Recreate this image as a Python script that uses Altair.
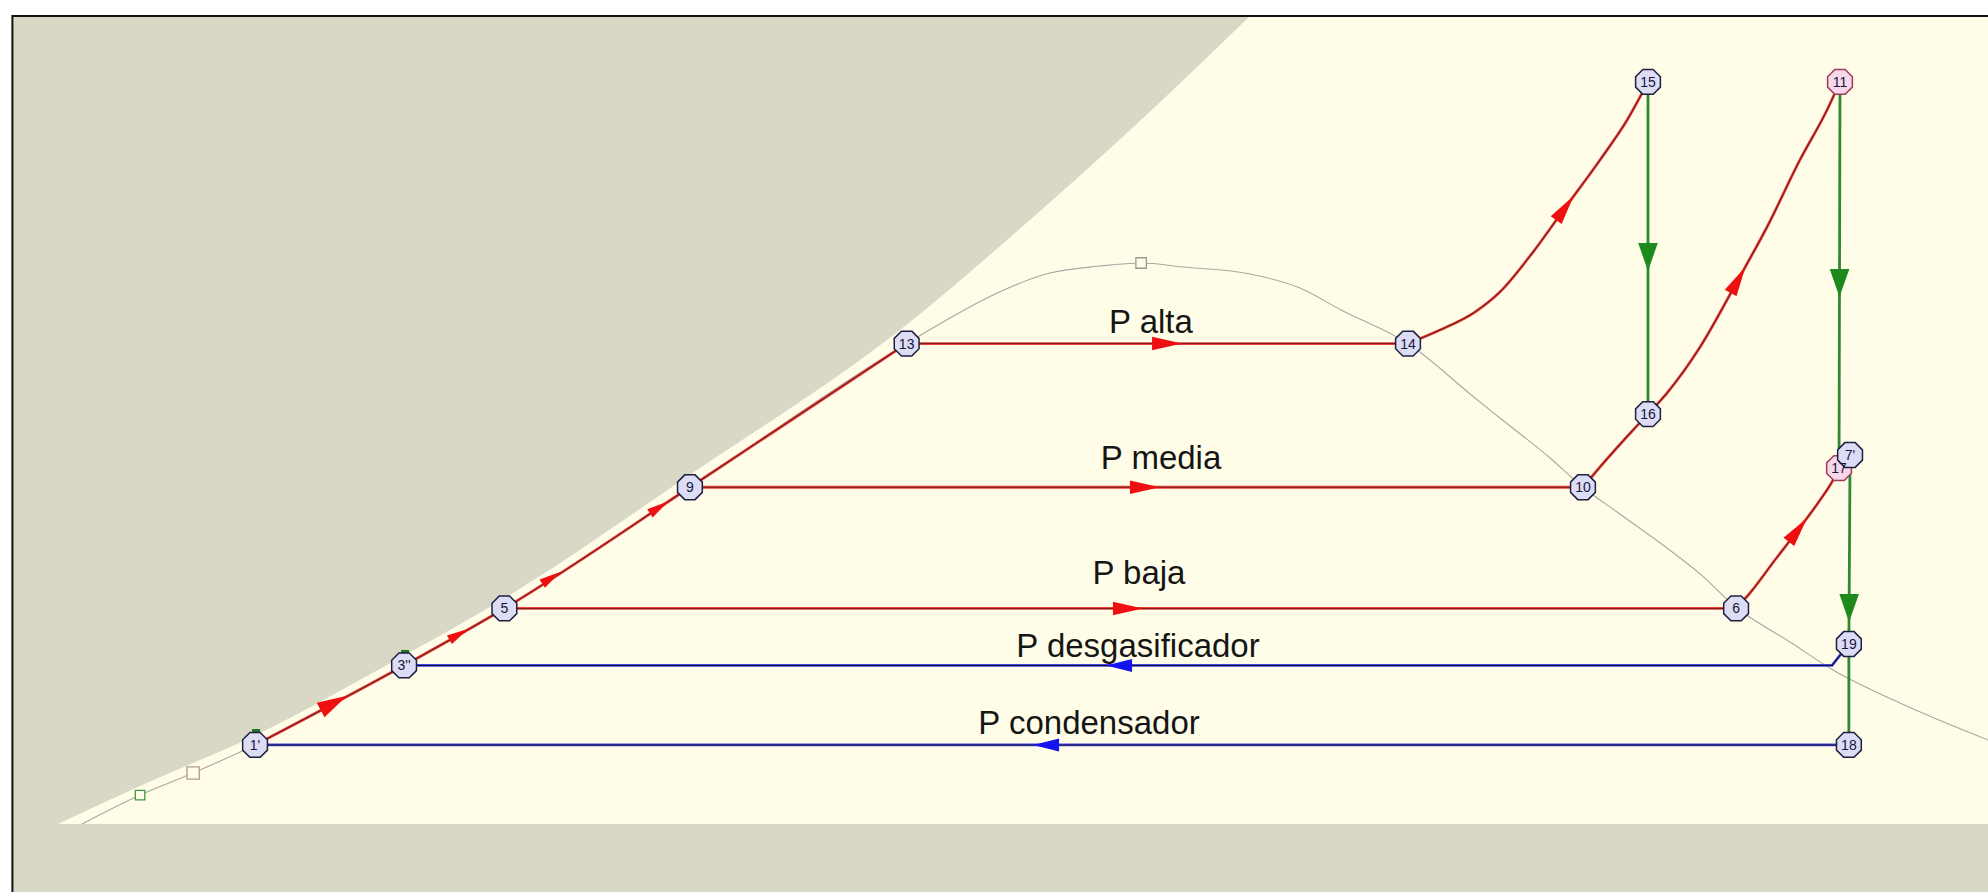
import math
import altair as alt
import pandas as pd

# ---------------------------------------------------------------------------
# T-s diagram of a regenerative / reheat steam cycle
# x: entropy s [kJ/kg K], y: temperature T [degC]
# ---------------------------------------------------------------------------
W, H = 1988, 892
S_DOMAIN = [-0.3417, 7.9417]
T_DOMAIN = [-45.33, 549.33]

FRAME_S = -0.29      # left edge of the framed field
FRAME_T = 538.7      # top edge of the framed field

# Saturation dome (liquid branch, critical point, vapour branch)
dome_s = [0.0, 0.242, 0.463, 0.721, 1.342, 1.760, 2.533, 3.436, 3.617, 3.754,
          4.033, 4.242, 4.413, 4.588, 4.867, 5.075, 5.246, 5.525, 5.804, 5.908,
          6.117, 6.254, 6.396, 6.604, 6.742, 6.892, 7.117, 7.296, 7.575, 7.942]
dome_T = [0.0, 19.3, 34.0, 52.7, 105.7, 143.7, 224.5, 320.3, 337.3, 349.3,
          367.3, 372.0, 374.0, 371.3, 366.7, 357.3, 342.7, 320.3, 284.0, 270.7,
          244.0, 224.5, 208.0, 184.0, 166.7, 144.5, 121.3, 102.7, 80.7, 56.0]

# Upper-left limit of the property field
edge_s = [-0.1, 0.242, 0.717, 1.3375, 1.7625, 2.525, 3.429, 3.883, 4.4125, 4.867, 4.979, 8.1]
edge_T = [0.0, 25.3, 58.7, 112.0, 150.7, 232.0, 332.0, 393.3, 469.3, 538.7, 556.0, 556.0]

# Cycle state points
state_names = ["1'", "3''", "5", "9", "13", "14", "15", "16", "10", "11",
               "6", "17", "7'", "19", "18"]
state_s = [0.721, 1.342, 1.760, 2.533, 3.436, 5.525, 6.525, 6.525, 6.254, 7.325,
           6.892, 7.321, 7.367, 7.362, 7.362]
state_T = [52.7, 105.7, 143.7, 224.5, 320.3, 320.3, 494.7, 273.3, 224.5, 494.7,
           143.7, 237.3, 246.0, 120.0, 52.7]
pink_states = ["11", "17"]

# Superheating 14 -> 15
hp_sh_s = [5.525, 5.658, 5.804, 5.908, 6.046, 6.179, 6.325, 6.438, 6.525]
hp_sh_T = [320.3, 329.3, 341.3, 354.7, 381.3, 410.7, 442.7, 469.3, 494.7]
# Heating 10 -> 16 -> 11
rh_s = [6.254, 6.325, 6.463, 6.525, 6.604, 6.742, 6.900, 7.021, 7.158, 7.271, 7.325]
rh_T = [224.5, 238.0, 262.7, 273.3, 287.3, 318.0, 362.7, 398.0, 442.7, 476.0, 494.7]
# Heating 6 -> 17
lp_s = [6.892, 6.950, 7.054, 7.150, 7.242, 7.296, 7.321]
lp_T = [143.7, 154.0, 176.0, 196.0, 216.0, 229.3, 237.3]

# Knee of the deaerator line next to state 19
KNEE_S, KNEE_T = 7.292, 105.7

# Pressure labels
label_text = ["P alta", "P media", "P baja", "P desgasificador", "P condensador"]
label_s = [4.454, 4.496, 4.404, 4.400, 4.196]
label_T = [327.3, 236.7, 160.0, 111.3, 60.0]

# Flow arrows: path, position, kind
arrow_path = ["liquid", "liquid", "liquid", "liquid", "alta", "media", "baja",
              "desgas", "cond", "hp_sh", "reheat", "lp_sh", "hp_exp", "lp_exp1", "lp_exp2"]
arrow_s = [1.054, 1.575, 1.954, 2.404, 4.521, 4.429, 4.358, 4.321, 4.017,
           6.179, 6.900, 7.150, 6.525, 7.325, 7.362]
arrow_T = [79.3, 125.3, 164.7, 211.3, 320.3, 224.5, 143.7, 105.7, 52.7,
           410.7, 362.7, 196.0, 378.0, 360.7, 144.0]
arrow_kind = ["big", "small", "small", "small", "main", "main", "main", "blue", "blue",
              "main", "main", "main", "green", "green", "green"]

# Small markers on the dome
mark_s = [0.242, 0.463, 4.413]
mark_T = [19.3, 34.0, 374.0]
mark_edge = ["#3f9a3f", "#b39a86", "#9a9a92"]
mark_size = [90, 150, 110]

# Small indicators above states 1' and 3''
tick_s = [0.725, 1.346]
tick_T = [62.0, 114.7]

# ---------------------------------------------------------------------------
GRAY = "#d9d8c6"
FIELD = "#fffde8"
OUTER = {"red": "#e8403a", "green": "#2f8a2f", "blue": "#4444d8"}
INNER = {"red": "#7c1c1c", "blue": "#12124e"}
ARROW_STYLE = {  # colour, length px, half-width ratio
    "big": ("#ee1010", 30, 0.55),
    "small": ("#ee1010", 22, 0.45),
    "main": ("#ee1010", 30, 0.45),
    "blue": ("#1414ee", 26, 0.5),
    "green": ("#1e8a1e", 28, 0.7),
}
OCTAGON = ("M0.383,-0.924L0.924,-0.383L0.924,0.383L0.383,0.924L-0.383,0.924"
           "L-0.924,0.383L-0.924,-0.383L-0.383,-0.924Z")
CURVED = ["liquid", "hp_sh", "reheat", "lp_sh"]


def to_px(s, T):
    x = (s - S_DOMAIN[0]) / (S_DOMAIN[1] - S_DOMAIN[0]) * W
    y = (T_DOMAIN[1] - T) / (T_DOMAIN[1] - T_DOMAIN[0]) * H
    return x, y


def from_px(x, y):
    s = S_DOMAIN[0] + x / W * (S_DOMAIN[1] - S_DOMAIN[0])
    T = T_DOMAIN[1] - y / H * (T_DOMAIN[1] - T_DOMAIN[0])
    return s, T


def states(*names):
    return [(state_s[state_names.index(n)], state_T[state_names.index(n)]) for n in names]


paths = {
    "liquid": ("red", states("1'", "3''", "5", "9", "13")),
    "alta": ("red", states("13", "14")),
    "hp_sh": ("red", list(zip(hp_sh_s, hp_sh_T))),
    "media": ("red", states("9", "10")),
    "reheat": ("red", list(zip(rh_s, rh_T))),
    "baja": ("red", states("5", "6")),
    "lp_sh": ("red", list(zip(lp_s, lp_T))),
    "hp_exp": ("green", states("15", "16")),
    "lp_exp1": ("green", states("11", "17")),
    "lp_exp2": ("green", states("7'", "19", "18")),
    "cond": ("blue", states("18", "1'")),
    "desgas": ("blue", states("19") + [(KNEE_S, KNEE_T)] + states("3''")),
}

line_rows = []
for key, (fam, pts) in paths.items():
    for i, (s, T) in enumerate(pts):
        line_rows.append({"path": key, "order": i, "s": s, "T": T,
                          "outer": OUTER[fam], "inner": INNER.get(fam, OUTER[fam]),
                          "fam": fam, "curved": key in CURVED})
lines_df = pd.DataFrame(line_rows)


def place_on(pts, s, T):
    """Snap a point onto the nearest segment of a path and give its heading."""
    px, py = to_px(s, T)
    best = None
    for (s0, T0), (s1, T1) in zip(pts[:-1], pts[1:]):
        x0, y0 = to_px(s0, T0)
        x1, y1 = to_px(s1, T1)
        dx, dy = x1 - x0, y1 - y0
        L2 = dx * dx + dy * dy
        t = max(0.0, min(1.0, ((px - x0) * dx + (py - y0) * dy) / L2))
        qx, qy = x0 + t * dx, y0 + t * dy
        d = (qx - px) ** 2 + (qy - py) ** 2
        if best is None or d < best[0]:
            best = (d, qx, qy, math.degrees(math.atan2(dy, dx)) % 360)
    _, qx, qy, ang = best
    ss, TT = from_px(qx, qy)
    return ss, TT, ang


arrow_rows = []
for p, s, T, k in zip(arrow_path, arrow_s, arrow_T, arrow_kind):
    ss, TT, ang = place_on(paths[p][1], s, T)
    col, L, r = ARROW_STYLE[k]
    arrow_rows.append({"s": ss, "T": TT, "angle": ang, "color": col, "size": L * L,
                       "shape": f"M1,0L-1,{-r}L-1,{r}Z"})
arrows_df = pd.DataFrame(arrow_rows)

nodes_df = pd.DataFrame({
    "name": state_names, "s": state_s, "T": state_T,
    "fill": ["#f6d8e8" if n in pink_states else "#dcdcf4" for n in state_names],
    "edge": ["#a03a5a" if n in pink_states else "#1e1e40" for n in state_names],
})
# 7' is drawn last so that it sits on top of 17
nodes_df["z"] = [0 if n != "7'" else 1 for n in state_names]
nodes_df = nodes_df.sort_values("z")

dome_df = pd.DataFrame({"s": dome_s, "T": dome_T})
edge_df = pd.DataFrame({"s": edge_s, "T": edge_T, "base": [0.0] * len(edge_s)})
labels_df = pd.DataFrame({"text": label_text, "s": label_s, "T": label_T})
marks_df = pd.DataFrame({"s": mark_s, "T": mark_T, "edge": mark_edge, "size": mark_size})
ticks_df = pd.DataFrame({"s": tick_s, "T": tick_T})
frame_df = pd.DataFrame({"s": [FRAME_S], "s2": [8.6], "T": [FRAME_T], "T2": [-80.0]})
margin_df = pd.DataFrame({"s": [-1.0], "s2": [9.0], "T": [FRAME_T], "T2": [600.0]})


def X(f="s"):
    return alt.X(f"{f}:Q", scale=alt.Scale(domain=S_DOMAIN, nice=False, zero=False), axis=None)


def Y(f="T"):
    return alt.Y(f"{f}:Q", scale=alt.Scale(domain=T_DOMAIN, nice=False, zero=False), axis=None)


backdrop = alt.Chart(frame_df).mark_rect(fill=GRAY, strokeWidth=0, clip=True).encode(
    x=X(), x2="s2:Q", y=Y(), y2="T2:Q")

field = alt.Chart(edge_df).mark_area(fill=FIELD, fillOpacity=1, clip=True,
                                     interpolate="monotone").encode(
    x=X(), y=Y(), y2=alt.Y2("base:Q"))

# white margin above the frame
margin = alt.Chart(margin_df).mark_rect(fill="white", strokeWidth=0, clip=True).encode(
    x=X(), x2="s2:Q", y=Y(), y2="T2:Q")

frame = alt.Chart(frame_df).mark_rect(fillOpacity=0, stroke="#111111", strokeWidth=2,
                                      clip=True).encode(
    x=X(), x2="s2:Q", y=Y(), y2="T2:Q")

dome = alt.Chart(dome_df).mark_line(color="#a8a8a0", strokeWidth=1.1, clip=True,
                                    interpolate="monotone").encode(x=X(), y=Y())

dome_marks = alt.Chart(marks_df).mark_point(shape="square", filled=False, strokeWidth=1.3,
                                            fill=FIELD, fillOpacity=1, opacity=1).encode(
    x=X(), y=Y(), stroke=alt.Stroke("edge:N", scale=None), size=alt.Size("size:Q", scale=None))


def path_layer(df, width, colfield, interp):
    return alt.Chart(df).mark_line(strokeWidth=width, interpolate=interp).encode(
        x=X(), y=Y(), detail="path:N", order="order:Q",
        color=alt.Color(f"{colfield}:N", scale=None))


curved_df = lines_df[lines_df["curved"]]
straight_df = lines_df[~lines_df["curved"]]
outer_c = path_layer(curved_df, 2.8, "outer", "monotone")
outer_s = path_layer(straight_df, 2.8, "outer", "linear")
inner_c = path_layer(curved_df[curved_df["fam"] != "green"], 1.1, "inner", "monotone")
inner_s = path_layer(straight_df[straight_df["fam"] != "green"], 1.1, "inner", "linear")

arrows = alt.Chart(arrows_df).mark_point(filled=True, opacity=1, strokeWidth=0).encode(
    x=X(), y=Y(),
    shape=alt.Shape("shape:N", scale=None),
    size=alt.Size("size:Q", scale=None),
    angle=alt.Angle("angle:Q", scale=None),
    color=alt.Color("color:N", scale=None))

ticks = alt.Chart(ticks_df).mark_point(shape="M-1,-0.5L1,-0.5L1,0.5L-1,0.5Z", size=64,
                                       filled=True, color="#1f7a1f", opacity=1).encode(
    x=X(), y=Y())

nodes = alt.Chart(nodes_df).mark_point(shape=OCTAGON, size=720, filled=True, opacity=1,
                                       strokeWidth=1.5).encode(
    x=X(), y=Y(), order="z:Q",
    fill=alt.Fill("fill:N", scale=None), stroke=alt.Stroke("edge:N", scale=None))

node_text = alt.Chart(nodes_df).mark_text(font="Liberation Sans", fontSize=14, color="#16163a",
                                          baseline="middle", align="center", dy=1).encode(
    x=X(), y=Y(), text="name:N")

labels = alt.Chart(labels_df).mark_text(font="Liberation Sans", fontSize=33, color="#151515",
                                        align="center", baseline="alphabetic").encode(
    x=X(), y=Y(), text="text:N")

chart = alt.layer(
    backdrop, field, margin, frame, dome, dome_marks, outer_c, outer_s, inner_c, inner_s,
    arrows, ticks, nodes, node_text, labels
).properties(width=W, height=H, padding=0, background="white").configure_view(stroke=None)

chart.save("out.html", embed_options={"renderer": "svg", "actions": False})
